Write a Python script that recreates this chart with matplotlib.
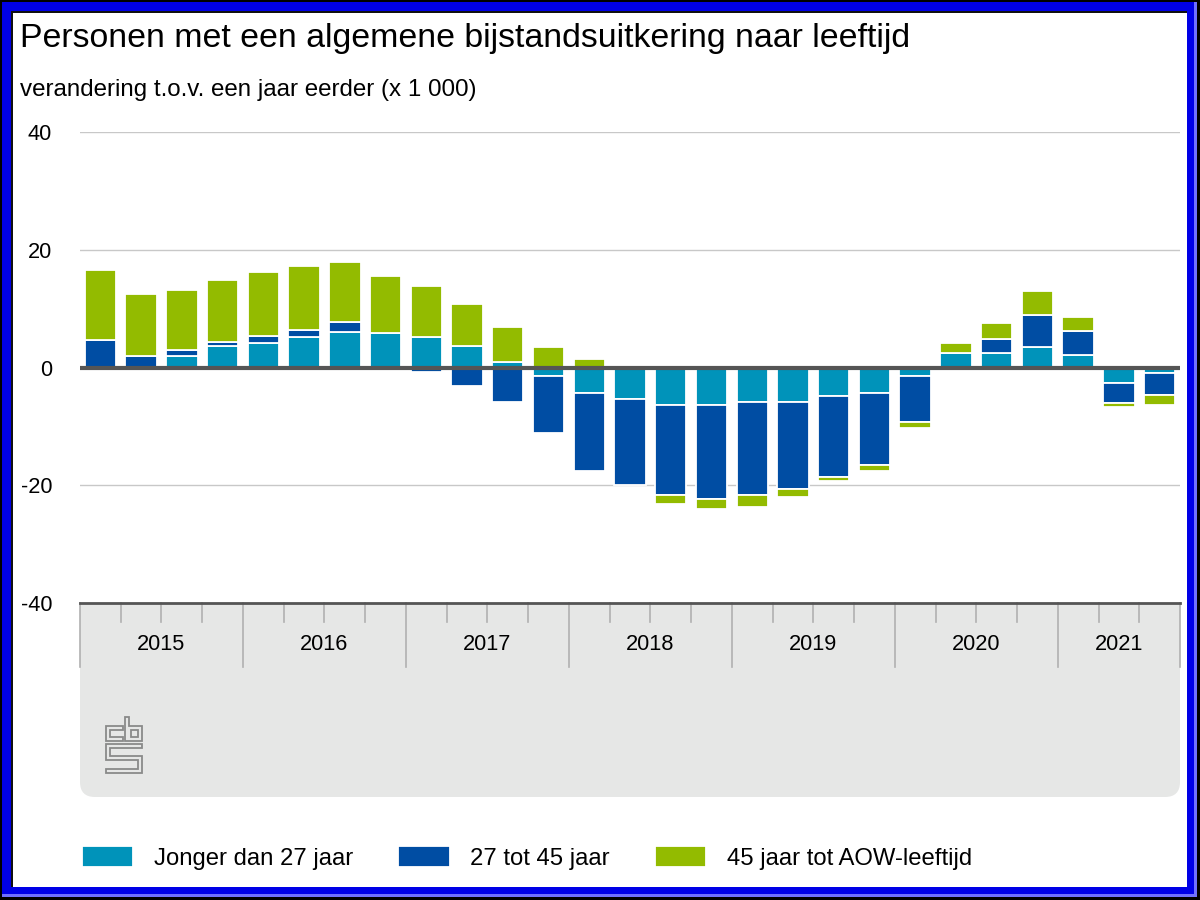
import matplotlib
matplotlib.use("Agg")
import matplotlib.pyplot as plt
import numpy as np
from matplotlib.patches import Rectangle, FancyBboxPatch, Polygon
from matplotlib.transforms import blended_transform_factory

plt.rcParams['font.family'] = ['Liberation Sans', 'DejaVu Sans']

# kwartalen 2015 Q1 t/m 2021 Q3
years = ['2015', '2016', '2017', '2018', '2019', '2020', '2021']
n_quarters = 27

# verandering t.o.v. een jaar eerder (x 1 000)
jonger_27 = [0.0, 0.0, 2.0, 3.7, 4.1, 5.1, 6.1, 5.8, 5.1, 3.7, 1.0, -1.4, -4.4, -5.4,
             -6.4, -6.4, -5.8, -5.8, -4.9, -4.3, -1.5, 2.5, 2.5, 3.5, 2.2, -2.6, -0.9]
van_27_45 = [4.7, 2.0, 1.0, 0.7, 1.3, 1.3, 1.7, 0.0, -0.7, -3.1, -5.8, -9.8, -13.2, -14.6,
             -15.3, -16.0, -15.9, -14.9, -13.7, -12.3, -7.7, 0.0, 2.4, 5.4, 4.0, -3.4, -3.7]
van_45_aow = [11.9, 10.5, 10.2, 10.5, 10.9, 10.9, 10.2, 9.8, 8.8, 7.1, 5.8, 3.4, 1.4, 0.0,
              -1.4, -1.7, -2.0, -1.3, -0.7, -1.0, -1.0, 1.7, 2.7, 4.1, 2.4, -0.7, -1.7]

labels = ['Jonger dan 27 jaar', '27 tot 45 jaar', '45 jaar tot AOW-leeftijd']
colors = ['#0093BA', '#004DA3', '#93BB00']

title = 'Personen met een algemene bijstandsuitkering naar leeftijd'
subtitle = 'verandering t.o.v. een jaar eerder (x 1 000)'

W, H = 1200, 900


def fx(x):
    return x / W


def fy(y):
    return 1 - y / H


fig = plt.figure(figsize=(12, 9), dpi=100)
fig.patch.set_facecolor('black')

# blauwe rand rond de afbeelding
fig.add_artist(Rectangle((fx(2), fy(897)), fx(1195), 895 / H, transform=fig.transFigure,
                         facecolor='#0000E6', edgecolor='none', zorder=-10))
fig.add_artist(Rectangle((fx(2), fy(897)), fx(1195), 3 / H, transform=fig.transFigure,
                         facecolor='#7070FF', edgecolor='none', zorder=-10))
fig.add_artist(Rectangle((fx(1194), fy(897)), fx(3), 895 / H, transform=fig.transFigure,
                         facecolor='#7070FF', edgecolor='none', zorder=-10))
fig.add_artist(Rectangle((fx(11), fy(887)), fx(1176), 876 / H, transform=fig.transFigure,
                         facecolor='#101010', edgecolor='none', zorder=-9))
fig.add_artist(Rectangle((fx(13), fy(887)), fx(1174), 874 / H, transform=fig.transFigure,
                         facecolor='white', edgecolor='none', zorder=-8))

# grijze band onder de x-as (onderkant afgerond)
band = '#E6E7E6'
fig.add_artist(FancyBboxPatch((0.80, (900 - 797) / 100), 11.0, 1.3,
                              boxstyle='round,pad=0,rounding_size=0.15',
                              transform=fig.dpi_scale_trans, facecolor=band,
                              edgecolor='none', zorder=-5))
fig.add_artist(Rectangle((0.80, (900 - 700) / 100), 11.0, 0.97,
                         transform=fig.dpi_scale_trans, facecolor=band,
                         edgecolor='none', zorder=-5))

# cbs-logo
logo_c = [(123, 726), (106, 726), (106, 741), (123, 741), (123, 737), (110, 737), (110, 730), (123, 730)]
logo_b = [(125, 717), (129, 717), (129, 726), (142, 726), (142, 741), (125, 741)]
logo_b_in = [(131, 730), (138, 730), (138, 737), (131, 737)]
logo_s = [(106, 744), (142, 744), (142, 748), (110, 748), (110, 756), (142, 756), (142, 773),
          (106, 773), (106, 769), (138, 769), (138, 760), (106, 760)]
for shape in [logo_c, logo_b, logo_b_in, logo_s]:
    pts = [(x / 100, (900 - y) / 100) for x, y in shape]
    fig.add_artist(Polygon(pts, closed=True, transform=fig.dpi_scale_trans, fill=False,
                           edgecolor='#8A8A8A', linewidth=1.3, zorder=-4))

ax = fig.add_axes([fx(80), fy(603), 1100 / W, 471 / H])
ax.set_facecolor('white')
ax.set_xlim(-0.5, n_quarters - 0.5)
ax.set_ylim(-40, 40)
for s in ax.spines.values():
    s.set_visible(False)

for yv in [40, 20, -20]:
    ax.axhline(yv, color='#C8C8C8', lw=1.0, zorder=1)
ax.axhline(-40, color='#555555', lw=2.0, zorder=4, clip_on=False)

x = np.arange(n_quarters)
pos = np.zeros(n_quarters)
neg = np.zeros(n_quarters)
handles = []
for vals, color, label in zip([jonger_27, van_27_45, van_45_aow], colors, labels):
    v = np.array(vals)
    bottom = np.where(v >= 0, pos, neg)
    bars = ax.bar(x, v, 0.77, bottom=bottom, color=color, edgecolor='white',
                  linewidth=1.3, label=label, zorder=2)
    handles.append(bars)
    pos += np.clip(v, 0, None)
    neg += np.clip(v, None, 0)

ax.axhline(0, color='#555555', lw=3.0, zorder=3)

ax.set_yticks([-40, -20, 0, 20, 40])
ax.set_yticklabels(['-40', '-20', '0', '20', '40'])
ax.tick_params(axis='y', length=0, pad=20, labelsize=15.7)
ax.set_xticks([])

# kwartaalstreepjes en jaargrenzen
trans = blended_transform_factory(ax.transData, ax.transAxes)
for b in range(n_quarters + 1):
    xb = b - 0.5
    if b % 4 == 0 or b == n_quarters:
        ax.plot([xb, xb], [0, -64 / 471], color='#B0B0B0', lw=1.2, transform=trans,
                clip_on=False, zorder=3)
    else:
        ax.plot([xb, xb], [0, -19 / 471], color='#B0B0B0', lw=1.2, transform=trans,
                clip_on=False, zorder=3)

for k, yr in enumerate(years):
    start = 4 * k
    end = min(4 * k + 3, n_quarters - 1)
    ax.text((start + end) / 2, -42 / 471, yr, transform=trans, ha='center', va='center',
            fontsize=15.7, color='black')

fig.text(fx(20), fy(47), title, fontsize=24.4, va='baseline', color='black')
fig.text(fx(20), fy(96), subtitle, fontsize=17.4, va='baseline', color='black')

fig.legend(handles, labels, loc='center left', bbox_to_anchor=(fx(82), fy(858)),
           ncol=3, frameon=False, fontsize=17.2, handlelength=2.15, handleheight=0.95,
           handletextpad=0.85, columnspacing=1.9, borderpad=0, borderaxespad=0)

fig.savefig('out.png', dpi=100, facecolor=fig.get_facecolor())
